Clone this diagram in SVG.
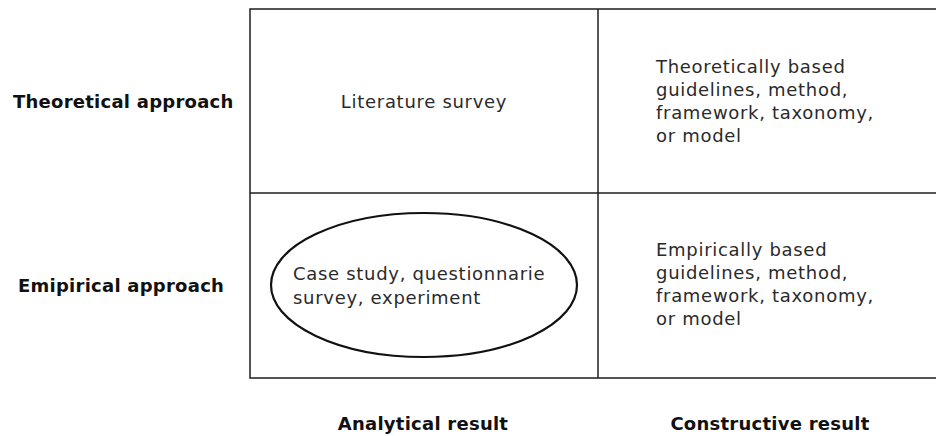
<svg xmlns="http://www.w3.org/2000/svg" width="936" height="436" viewBox="0 0 936 436">
  <style>
    .line { fill: none; stroke: #1e1e1e; stroke-width: 1.5; }
    .oval { fill: none; stroke: #111; stroke-width: 2.2; }
    .body { font-family: "DejaVu Sans", "Liberation Sans", sans-serif; font-size: 18px; fill: #2a2a2a; letter-spacing: 0.7px; }
    .head { font-family: "DejaVu Sans", "Liberation Sans", sans-serif; font-size: 18px; font-weight: bold; fill: #111; letter-spacing: 0.25px; }
    .mid { text-anchor: middle; }
  </style>
  <rect width="936" height="436" fill="#fff"/>

  <!-- 2x2 grid; the right column runs off the page edge -->
  <g id="grid">
    <rect class="line" x="250" y="9" width="700" height="369"/>
    <line class="line" x1="598" y1="9" x2="598" y2="378"/>
    <line class="line" x1="250" y1="193" x2="950" y2="193"/>
  </g>

  <!-- row headings -->
  <g id="row-theoretical">
    <text class="head" x="13" y="108">Theoretical approach</text>
  </g>
  <g id="row-empirical">
    <text class="head" x="18" y="292">Emipirical approach</text>
  </g>

  <!-- column headings -->
  <g id="col-analytical">
    <text class="head mid" x="423" y="430">Analytical result</text>
  </g>
  <g id="col-constructive">
    <text class="head mid" x="770" y="430">Constructive result</text>
  </g>

  <!-- cells -->
  <g id="cell-literature">
    <text class="body mid" x="424" y="108">Literature survey</text>
  </g>
  <g id="cell-theoretical-result">
    <text class="body" x="656">
      <tspan x="656" y="73">Theoretically based</tspan>
      <tspan x="656" y="96">guidelines, method,</tspan>
      <tspan x="656" y="119">framework, taxonomy,</tspan>
      <tspan x="656" y="142">or model</tspan>
    </text>
  </g>
  <g id="cell-empirical-study">
    <ellipse class="oval" cx="424" cy="285" rx="153" ry="72"/>
    <text class="body" x="293">
      <tspan x="293" y="280">Case study, questionnarie</tspan>
      <tspan x="293" y="304">survey, experiment</tspan>
    </text>
  </g>
  <g id="cell-empirical-result">
    <text class="body" x="656">
      <tspan x="656" y="256">Empirically based</tspan>
      <tspan x="656" y="279">guidelines, method,</tspan>
      <tspan x="656" y="302">framework, taxonomy,</tspan>
      <tspan x="656" y="325">or model</tspan>
    </text>
  </g>
</svg>
